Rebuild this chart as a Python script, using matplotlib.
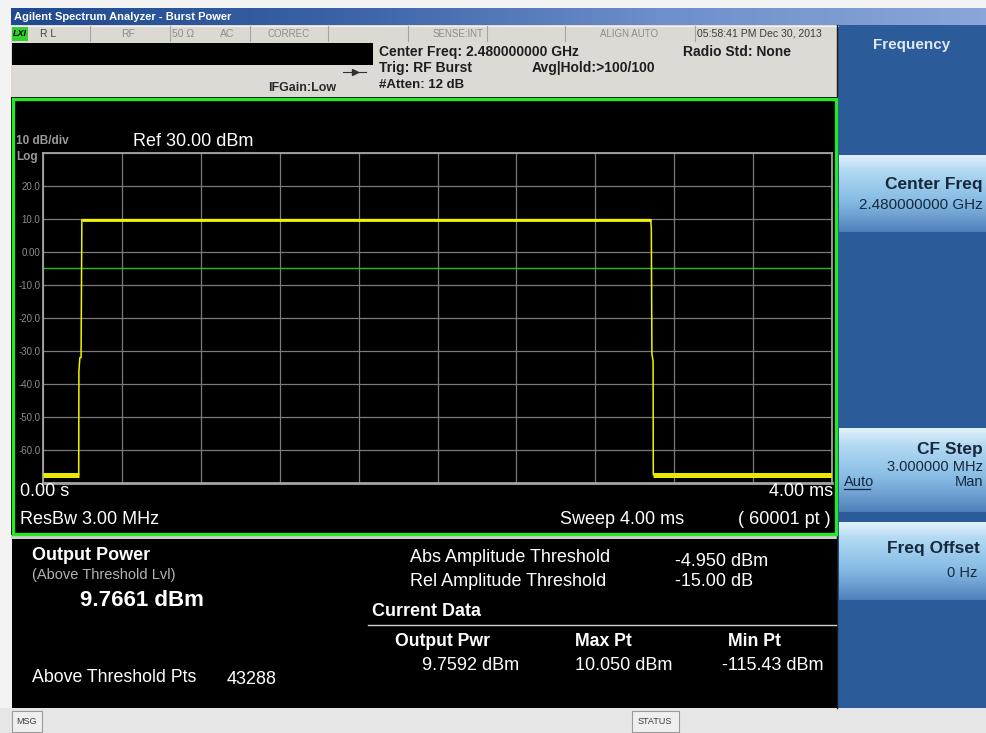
import numpy as np
import matplotlib
matplotlib.use("Agg")
import matplotlib.pyplot as plt
from matplotlib.patches import Rectangle
from matplotlib.lines import Line2D
from matplotlib.colors import LinearSegmentedColormap

plt.rcParams['font.family'] = ['Liberation Sans', 'DejaVu Sans']

# ---------------- data ----------------
y_ticks = [30, 20, 10, 0, -10, -20, -30, -40, -50, -60, -70]
y_tick_labels = ["", "20.0", "10.0", "0.00", "-10.0", "-20.0", "-30.0", "-40.0", "-50.0", "-60.0", ""]
x_ticks_ms = [0.0, 0.4, 0.8, 1.2, 1.6, 2.0, 2.4, 2.8, 3.2, 3.6, 4.0]
floor_dbm = -67.5
trace_t_ms = [0.000, 0.181, 0.182, 0.187, 0.193, 0.197, 3.081, 3.084, 3.087, 3.093, 3.094, 4.000]
trace_dbm = [floor_dbm, floor_dbm, -36.0, -32.0, -32.0, 9.8, 9.8, 7.0, -31.0, -33.0, floor_dbm, floor_dbm]
threshold_dbm = -4.95

W, H = 987, 733
fig = plt.figure(figsize=(W / 100, H / 100), dpi=100)
fig.patch.set_facecolor("#f3f3f3")


def fx(x):
    return x / W


def fy(y):
    return 1 - y / H


def rect(x0, y0, x1, y1, color, z=-5, ec="none", lw=0):
    fig.patches.append(Rectangle((fx(x0), fy(y1)), (x1 - x0) / W, (y1 - y0) / H,
                                 transform=fig.transFigure, facecolor=color,
                                 edgecolor=ec, linewidth=lw, zorder=z))


def txt(x, y, s, size, color, weight="normal", ha="left", va="center", **kw):
    fig.text(fx(x), fy(y), s, fontsize=size, color=color, fontweight=weight,
             ha=ha, va=va, zorder=10, **kw)


def vline(x, y0, y1, color, lw=1.0, z=2):
    fig.lines.append(Line2D([fx(x), fx(x)], [fy(y0), fy(y1)], transform=fig.transFigure,
                            color=color, linewidth=lw, zorder=z))


def hline(x0, x1, y, color, lw=1.0, z=2):
    fig.lines.append(Line2D([fx(x0), fx(x1)], [fy(y), fy(y)], transform=fig.transFigure,
                            color=color, linewidth=lw, zorder=z))


def grad(x0, y0, x1, y1, colors, horizontal=False, z=-3):
    a = fig.add_axes([fx(x0), fy(y1), (x1 - x0) / W, (y1 - y0) / H])
    cmap = LinearSegmentedColormap.from_list("g", colors)
    g = np.linspace(0, 1, 256)
    img = g[None, :] if horizontal else g[:, None]
    a.imshow(img, cmap=cmap, aspect="auto", interpolation="bilinear")
    a.set_axis_off()
    a.set_zorder(z)
    return a


# ---------------- window chrome ----------------
# title bar
grad(11, 8, 987, 25, ["#1f4a8e", "#3a62a6", "#6d8fca", "#8aa6da"], horizontal=True)
txt(14, 16.5, "Agilent Spectrum Analyzer - Burst Power", 8, "white", weight="bold")

# status row
rect(11, 25, 838, 42, "#dcd9d3")
hline(11, 838, 25.5, "#f4f2ee", lw=0.8)
rect(12, 27, 28, 41, "#2fd12f", z=-4)
txt(20, 34, "LXI", 6.5, "black", weight="bold", ha="center", style="italic")
for sx in [90, 170, 250, 328, 408, 487, 565, 695]:
    vline(sx, 26, 41, "#a8a5a0", lw=0.8)
txt(40, 34, "R L", 7.5, "#454545")
txt(128, 34, "RF", 7.5, "#8c8c8c", ha="center")
txt(172, 34, "50 Ω", 7.5, "#8c8c8c")
txt(220, 34, "AC", 7.5, "#8c8c8c")
txt(267, 34, "CORREC", 7, "#8c8c8c")
txt(483, 34, "SENSE:INT", 7, "#8c8c8c", ha="right")
txt(600, 34, "ALIGN AUTO", 7, "#8c8c8c")
txt(697, 34, "05:58:41 PM Dec 30, 2013", 7.6, "#3c3c3c")

# info area
rect(11, 42, 838, 97, "#dddad5")
rect(12, 43, 373, 65, "black", z=-4)
hline(343, 366, 72, "#303030", lw=0.8)
fig.lines.append(Line2D([fx(355)], [fy(72)], transform=fig.transFigure, marker=">",
                        markersize=4, color="#303030", zorder=3))
txt(268, 88, "IFGain:Low", 9, "#2a2a2a", weight="bold")
txt(379, 52, "Center Freq: 2.480000000 GHz", 10, "#1e1e1e", weight="bold")
txt(379, 68, "Trig: RF Burst", 10, "#1e1e1e", weight="bold")
txt(532, 68, "Avg|Hold:>100/100", 10, "#1e1e1e", weight="bold")
txt(379, 85, "#Atten: 12 dB", 9.5, "#1e1e1e", weight="bold")
txt(683, 52, "Radio Std: None", 10, "#1e1e1e", weight="bold")

# right soft-key panel
rect(838, 25, 987, 708, "#2c5b99")
vline(837.5, 25, 708, "#1a1a1a", lw=1.0)
txt(912, 45, "Frequency", 11, "#dfe9f6", weight="bold", ha="center")
btn_colors = ["#e2f2fc", "#b4daf2", "#9bcbec", "#86bbe3", "#6d9fd2", "#4f80ba"]
grad(839, 155, 987, 232, btn_colors)
grad(839, 428, 987, 512, btn_colors)
grad(839, 522, 987, 600, btn_colors)
txt(983, 185, "Center Freq", 12.5, "#17283c", weight="bold", ha="right")
txt(983, 205, "2.480000000 GHz", 11, "#17283c", ha="right")
txt(983, 450, "CF Step", 12.5, "#17283c", weight="bold", ha="right")
txt(983, 467, "3.000000 MHz", 10.5, "#17283c", ha="right")
txt(844, 482, "Auto", 10.5, "#17283c")
hline(844, 870, 489, "#17283c", lw=0.9, z=11)
txt(983, 482, "Man", 10.5, "#17283c", ha="right")
txt(980, 548, "Freq Offset", 12.5, "#17283c", weight="bold", ha="right")
txt(977, 573, "0 Hz", 10.5, "#17283c", ha="right")

# trace window frame
rect(11, 97, 838, 535, "black")
fig.patches.append(Rectangle((fx(13.5), fy(533.5)), (836 - 13.5) / W, (533.5 - 98.5) / H,
                             transform=fig.transFigure, facecolor="none",
                             edgecolor="#27e827", linewidth=2.4, zorder=3))
rect(11, 535, 838, 539, "#cfcfcf")

# data box
rect(12, 539, 837, 708, "black")
# bottom status bar
rect(0, 708, 987, 733, "#e6e6e6")
rect(12, 711, 42, 732, "#efefef", z=-4, ec="#9a9a9a", lw=0.8)
txt(27, 721, "MSG", 6.5, "#3a3a3a", ha="center")
rect(632, 711, 679, 732, "#efefef", z=-4, ec="#9a9a9a", lw=0.8)
txt(655, 721, "STATUS", 6.5, "#3a3a3a", ha="center")

# ---------------- trace plot ----------------
ax = fig.add_axes([fx(43), fy(483), (832 - 43) / W, (483 - 153) / H])
ax.set_facecolor("black")
ax.set_xlim(0, 4.0)
ax.set_ylim(-70, 30)
ax.set_xticks(x_ticks_ms)
ax.set_xticklabels([])
ax.set_yticks(y_ticks)
ax.set_yticklabels(y_tick_labels)
ax.tick_params(axis="both", length=0, pad=2)
ax.tick_params(axis="y", labelsize=7, labelcolor="#8e8e8e")
ax.grid(True, color="#7a7a7a", linewidth=0.9)
ax.set_axisbelow(True)
for s in ax.spines.values():
    s.set_color("#a5a5a5")
    s.set_linewidth(1.3)
ax.spines["bottom"].set_linewidth(2.0)

ax.axhline(threshold_dbm, color="#1fc21f", linewidth=1.0, zorder=2)
ax.plot(trace_t_ms, trace_dbm, color="#f2f200", linewidth=1.1, zorder=3)
ax.plot(trace_t_ms[:2], trace_dbm[:2], color="#e8e800", linewidth=3.6,
        solid_capstyle="butt", zorder=3)
ax.plot(trace_t_ms[-2:], trace_dbm[-2:], color="#e8e800", linewidth=3.6,
        solid_capstyle="butt", zorder=3)
ax.plot(trace_t_ms[5:7], trace_dbm[5:7], color="#f4f400", linewidth=2.0,
        solid_capstyle="butt", zorder=3)

# plot annotations
txt(16, 141, "10 dB/div", 8.5, "#9a9a9a", weight="bold")
txt(133, 141, "Ref 30.00 dBm", 13, "white")
txt(16, 157, "Log", 8.5, "#9a9a9a", weight="bold")
txt(20, 492, "0.00 s", 13, "white")
txt(833, 492, "4.00 ms", 13, "white", ha="right")
txt(20, 519, "ResBw 3.00 MHz", 13, "white")
txt(560, 519, "Sweep 4.00 ms", 13, "white")
txt(831, 519, "( 60001 pt )", 13, "white", ha="right")

# ---------------- data box text ----------------
txt(32, 556, "Output Power", 13, "white", weight="bold")
txt(32, 575, "(Above Threshold Lvl)", 10.5, "#b4b4b4")
txt(80, 601, "9.7661 dBm", 16, "white", weight="bold")
txt(32, 678, "Above Threshold Pts", 12.8, "white")
txt(227, 679, "43288", 13, "white")

txt(410, 558, "Abs Amplitude Threshold", 13, "white")
txt(675, 561, "-4.950 dBm", 13, "white")
txt(410, 581, "Rel Amplitude Threshold", 13, "white")
txt(675, 582, "-15.00 dB", 13, "white")
txt(372, 612, "Current Data", 13, "white", weight="bold")
hline(368, 836, 624.5, "#d0d0d0", lw=1.0, z=3)
txt(395, 641, "Output Pwr", 12.7, "white", weight="bold")
txt(575, 641, "Max Pt", 12.7, "white", weight="bold")
txt(728, 641, "Min Pt", 12.7, "white", weight="bold")
txt(422, 666, "9.7592 dBm", 13, "white")
txt(575, 666, "10.050 dBm", 13, "white")
txt(722, 666, "-115.43 dBm", 13, "white")

fig.savefig("out.png", dpi=100, facecolor=fig.get_facecolor())
